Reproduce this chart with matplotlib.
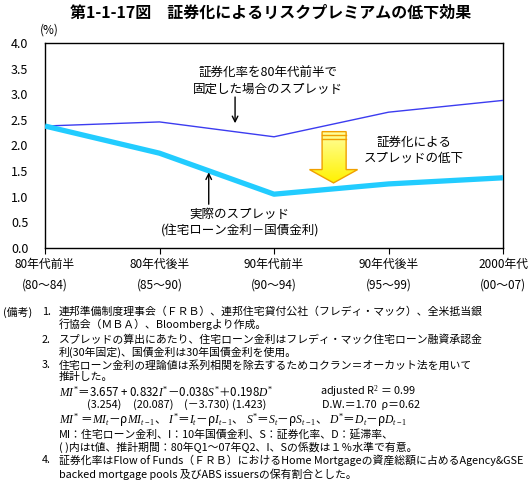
import matplotlib
matplotlib.use("Agg")
import matplotlib.pyplot as plt
import numpy as np
from matplotlib.patches import Polygon
from matplotlib.colors import LinearSegmentedColormap

plt.rcParams['font.family'] = ['Noto Sans CJK JP', 'DejaVu Sans']
plt.rcParams['mathtext.fontset'] = 'custom'
plt.rcParams['mathtext.it'] = 'Liberation Serif:italic'
plt.rcParams['mathtext.rm'] = 'Liberation Serif'

# ---- data ----
categories = ["80年代前半\n(80～84)", "80年代後半\n(85～90)", "90年代前半\n(90～94)",
              "90年代後半\n(95～99)", "2000年代\n(00～07)"]
fixed_spread = [2.38, 2.46, 2.17, 2.65, 2.88]     # 証券化率を80年代前半で固定
actual_spread = [2.38, 1.85, 1.05, 1.25, 1.37]    # 実際のスプレッド
yticks = [0.0, 0.5, 1.0, 1.5, 2.0, 2.5, 3.0, 3.5, 4.0]

W, H = 529, 483
fig = plt.figure(figsize=(W / 100, H / 100), dpi=100)

def fx(px):
    return px / W

def fy(py):
    return 1 - py / H

ax = fig.add_axes([fx(45), fy(248), fx(503) - fx(45), fy(43) - fy(248)])
x = np.arange(len(categories))
ax.plot(x, fixed_spread, color='#3c3cf0', lw=1.0, zorder=3)
ax.plot(x, actual_spread, color='#22ccff', lw=3.8, zorder=3, solid_capstyle='butt')
ax.set_xlim(0, len(categories) - 1)
ax.set_ylim(0, 4.0)
ax.set_yticks(yticks)
ax.set_yticklabels([f"{v:.1f}" for v in yticks], fontsize=9)
ax.tick_params(axis='y', length=0, pad=12)
ax.set_xticks(x)
ax.set_xticklabels(categories, fontsize=8.5, linespacing=1.75)
ax.tick_params(axis='x', length=4, direction='out', pad=3)
for s in ax.spines.values():
    s.set_linewidth(1.0)
    s.set_color('black')

# annotations
ax.annotate("", xy=(1.66, 2.38), xytext=(1.66, 3.0),
            arrowprops=dict(arrowstyle='->', color='black', lw=1.0))
ax.text(1.95, 3.25, "証券化率を80年代前半で\n固定した場合のスプレッド", ha='center', va='center',
        fontsize=9, linespacing=1.3)
ax.annotate("", xy=(1.43, 1.53), xytext=(1.43, 0.8),
            arrowprops=dict(arrowstyle='->', color='black', lw=1.0))
ax.text(1.7, 0.5, "実際のスプレッド\n(住宅ローン金利－国債金利)", ha='center', va='center',
        fontsize=9, linespacing=1.3)
ax.text(3.22, 1.9, "証券化による\nスプレッドの低下", ha='center', va='center',
        fontsize=9, linespacing=1.3)

# yellow arrow
verts = [(2.42, 2.27), (2.63, 2.27), (2.63, 1.53), (2.73, 1.53), (2.52, 1.27),
         (2.31, 1.53), (2.42, 1.53)]
poly = Polygon(verts, closed=True, facecolor='none', edgecolor='#f0a000', lw=1.0, zorder=5)
ax.add_patch(poly)
grad = np.linspace(0, 1, 100).reshape(-1, 1)
cmap = LinearSegmentedColormap.from_list('yl', ['#fff200', '#ffffa0'])
im = ax.imshow(grad, extent=(2.31, 2.73, 1.27, 2.27), cmap=cmap, aspect='auto',
               origin='lower', zorder=4)
im.set_clip_path(poly)
for yy in [2.2, 2.12]:
    ax.plot([2.42, 2.63], [yy, yy], color='#f0a000', lw=1.0, zorder=6)

# title and unit
fig.text(fx(271), fy(13), "第1-1-17図　証券化によるリスクプレミアムの低下効果",
         ha='center', va='center', fontsize=11.5, fontweight='bold')
fig.text(fx(40), fy(30), "(%)", ha='left', va='center', fontsize=8.5)

# notes
fs = 7.8
def note(px, py, s, size=fs, **kw):
    fig.text(fx(px), fy(py), s, ha='left', va='center', fontsize=size, **kw)

note(3, 312, "(備考)")
note(42, 312, "1.")
note(59, 312, "連邦準備制度理事会（ＦＲＢ）、連邦住宅貸付公社（フレディ・マック）、全米抵当銀")
note(59, 324, "行協会（ＭＢＡ）、Bloombergより作成。")
note(42, 340, "2.")
note(59, 340, "スプレッドの算出にあたり、住宅ローン金利はフレディ・マック住宅ローン融資承認金")
note(59, 352, "利(30年固定)、国債金利は30年国債金利を使用。")
note(42, 365, "3.")
note(59, 365, "住宅ローン金利の理論値は系列相関を除去するためコクラン＝オーカット法を用いて")
note(59, 377, "推計した。")
note(59, 392, r"$MI^{*}$＝3.657 + 0.832$I^{*}$－0.038$S^{*}$＋0.198$D^{*}$", size=8.3)
note(320, 392, r"adjusted R$^{2}$ ＝ 0.99")
note(87, 405, "(3.254)")
note(133, 405, "(20.087)")
note(184, 405, "(－3.730)")
note(232, 405, "(1.423)")
note(322, 405, "D.W.＝1.70  ρ＝0.62")
note(59, 420, r"$MI^{*}$ ＝$MI_{t}$－ρ$MI_{t-1}$、 $I^{*}$＝$I_{t}$－ρ$I_{t-1}$、 "
              r"$S^{*}$＝$S_{t}$－ρ$S_{t-1}$、 $D^{*}$＝$D_{t}$－ρ$D_{t-1}$", size=8.4)
note(59, 434, "MI：住宅ローン金利、I：10年国債金利、S：証券化率、D：延滞率、")
note(59, 447, "( )内はt値、推計期間：80年Q1～07年Q2、I、Sの係数は１％水準で有意。")
note(42, 460, "4.")
note(59, 460, "証券化率はFlow of Funds（ＦＲＢ）におけるHome Mortgageの資産総額に占めるAgency&GSE")
note(59, 474, "backed mortgage pools 及びABS issuersの保有割合とした。")

fig.savefig("out.png", dpi=100)
